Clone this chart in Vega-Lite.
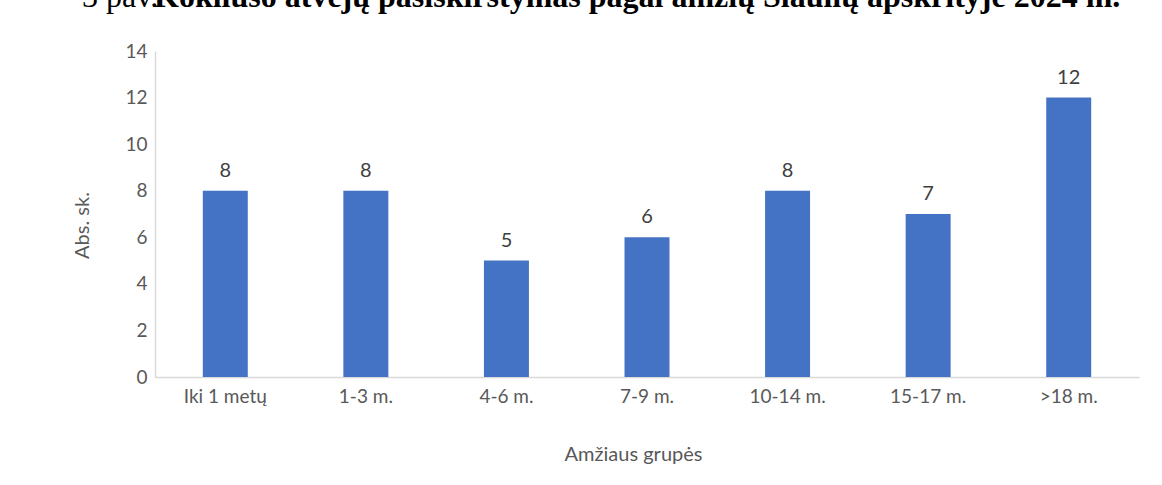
{
  "$schema": "https://vega.github.io/schema/vega-lite/v6.json",
  "width": 984,
  "height": 326,
  "autosize": {"type": "none"},
  "padding": {"left": 155, "top": 51, "right": 23, "bottom": 108},
  "background": "white",
  "title": {
    "text": "\u200b\u00a0\u00a0\u00a0\u00a0\u00a0\u00a0\u00a0\u00a0\u00a0\u00a0\u00a0Kokliušo atvejų pasiskirstymas pagal amžių Šiaulių apskrityje 2024 m.",
    "subtitle": "\u200b\u00a0\u00a03 pav.",
    "anchor": "start",
    "frame": "group",
    "font": "Liberation Serif",
    "fontSize": 32,
    "fontWeight": "bold",
    "color": "#000000",
    "subtitleFont": "Liberation Serif",
    "subtitleFontSize": 32,
    "subtitleFontWeight": "normal",
    "subtitleColor": "#000000",
    "subtitlePadding": -32,
    "dx": -89,
    "offset": 28
  },
  "data": {
    "values": [
      {"grupe": "Iki 1 metų", "n": 8},
      {"grupe": "1-3 m.", "n": 8},
      {"grupe": "4-6 m.", "n": 5},
      {"grupe": "7-9 m.", "n": 6},
      {"grupe": "10-14 m.", "n": 8},
      {"grupe": "15-17 m.", "n": 7},
      {"grupe": ">18 m.", "n": 12}
    ]
  },
  "encoding": {
    "x": {
      "field": "grupe",
      "type": "nominal",
      "sort": null,
      "scale": {"paddingInner": 0.68, "paddingOuter": 0.34},
      "axis": {
        "title": "Amžiaus grupės",
        "labelAngle": 0,
        "labelBaseline": "alphabetic",
        "labelPadding": 25,
        "ticks": false,
        "tickSize": 0,
        "titleX": 478,
        "titleY": 83,
        "titleBaseline": "alphabetic",
        "titleAlign": "center"
      }
    },
    "y": {
      "field": "n",
      "type": "quantitative",
      "scale": {"domain": [0, 14], "nice": false},
      "axis": {
        "title": "Abs. sk.",
        "values": [0, 2, 4, 6, 8, 10, 12, 14],
        "grid": false,
        "ticks": false,
        "tickSize": 0,
        "labelPadding": 8,
        "titleX": -67,
        "titleY": 174,
        "titleAngle": -90,
        "titleBaseline": "alphabetic",
        "titleAlign": "center"
      }
    }
  },
  "layer": [
    {"mark": {"type": "bar", "color": "#4472C4"}},
    {
      "mark": {
        "type": "text",
        "baseline": "alphabetic",
        "dy": -14,
        "font": "Lato",
        "fontSize": 20,
        "color": "#404040"
      },
      "encoding": {"text": {"field": "n", "type": "quantitative"}}
    }
  ],
  "config": {
    "view": {"stroke": null},
    "axis": {
      "domainColor": "#d9d9d9",
      "domainWidth": 1.5,
      "labelColor": "#595959",
      "labelFont": "Lato",
      "labelFontSize": 19,
      "titleColor": "#595959",
      "titleFont": "Lato",
      "titleFontSize": 20,
      "titleFontWeight": "normal"
    }
  }
}
